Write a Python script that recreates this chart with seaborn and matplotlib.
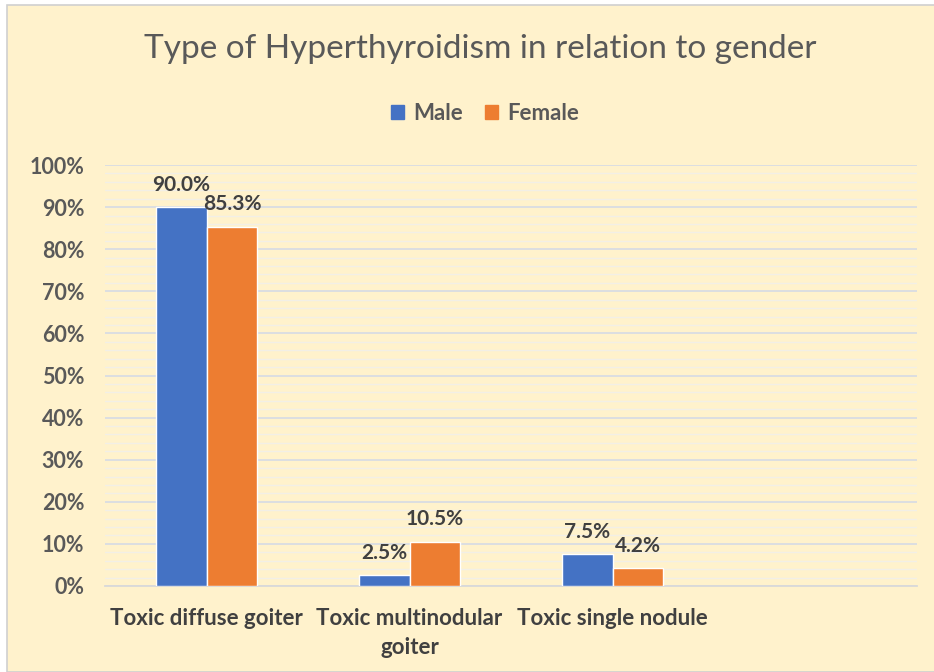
import pandas as pd
import numpy as np
import matplotlib
matplotlib.use("Agg")
import matplotlib.pyplot as plt
from matplotlib.patches import Rectangle
from matplotlib.ticker import MultipleLocator, PercentFormatter
import seaborn as sns

# data
categories = ["Toxic diffuse goiter", "Toxic multinodular\ngoiter", "Toxic single nodule"]
male = [90.0, 2.5, 7.5]
female = [85.3, 10.5, 4.2]

df = pd.DataFrame({
    "Type": categories * 2,
    "Gender": ["Male"] * 3 + ["Female"] * 3,
    "Percent": male + female,
})

sns.set_style("white")
plt.rcParams["font.family"] = ["Lato", "DejaVu Sans"]

bg = "#FFF2CC"
txt = "#595959"

fig = plt.figure(figsize=(9.34, 6.72), dpi=100)
fig.patch.set_facecolor("white")
fig.patches.append(Rectangle((7 / 934, 0), 1, 1 - 5 / 672, transform=fig.transFigure,
                             facecolor=bg, edgecolor="#D0D0D0", linewidth=1.2, zorder=-10))

ax = fig.add_axes([105 / 934, 1 - 586 / 672, (917 - 105) / 934, (586 - 165) / 672])
ax.set_facecolor(bg)
ax.patch.set_alpha(0)

sns.barplot(data=df, x="Type", y="Percent", hue="Gender",
            palette={"Male": "#4472C4", "Female": "#ED7D31"},
            width=0.5, saturation=1, ax=ax, zorder=3)

ax.set_xlim(-0.5, 3.5)
ax.set_ylim(0, 100)
ax.yaxis.set_major_locator(MultipleLocator(10))
ax.yaxis.set_minor_locator(MultipleLocator(2))
ax.yaxis.set_major_formatter(PercentFormatter(decimals=0))
ax.grid(axis="y", which="major", color="#D9DCE3", linewidth=1.3, zorder=0)
ax.grid(axis="y", which="minor", color="#F2EFE6", linewidth=1.0, zorder=0)
ax.set_axisbelow(True)

for side in ["top", "right", "left"]:
    ax.spines[side].set_visible(False)
ax.spines["bottom"].set_color("#D9D9D9")
ax.spines["bottom"].set_linewidth(1.3)

ax.tick_params(axis="both", which="both", length=0)
ax.tick_params(axis="y", pad=15, labelsize=15.5, labelcolor=txt)
ax.tick_params(axis="x", pad=16, labelsize=16, labelcolor="#404040")
for lab in ax.get_yticklabels() + ax.get_xticklabels():
    lab.set_fontweight("bold")
for lab in ax.get_xticklabels():
    lab.set_linespacing(1.45)
ax.set_xlabel("")
ax.set_ylabel("")

for cont in ax.containers:
    ax.bar_label(cont, fmt="%.1f%%", padding=9, fontsize=15, fontweight="bold", color="#404040")

ax.legend_.remove()
handles = [Rectangle((0, 0), 1, 1, color="#4472C4"), Rectangle((0, 0), 1, 1, color="#ED7D31")]
fig.legend(handles, ["Male", "Female"], loc="center", bbox_to_anchor=(485 / 934, 1 - 113 / 672),
           ncol=2, frameon=False, handlelength=0.6, handleheight=0.6, handletextpad=0.4,
           columnspacing=1.0, prop={"size": 16, "weight": "bold"}, labelcolor=txt)

fig.text(480 / 934, 1 - 49 / 672, "Type of Hyperthyroidism in relation to gender",
         ha="center", va="center", fontsize=24, color=txt)

fig.savefig("out.png", dpi=100, facecolor=fig.get_facecolor())
